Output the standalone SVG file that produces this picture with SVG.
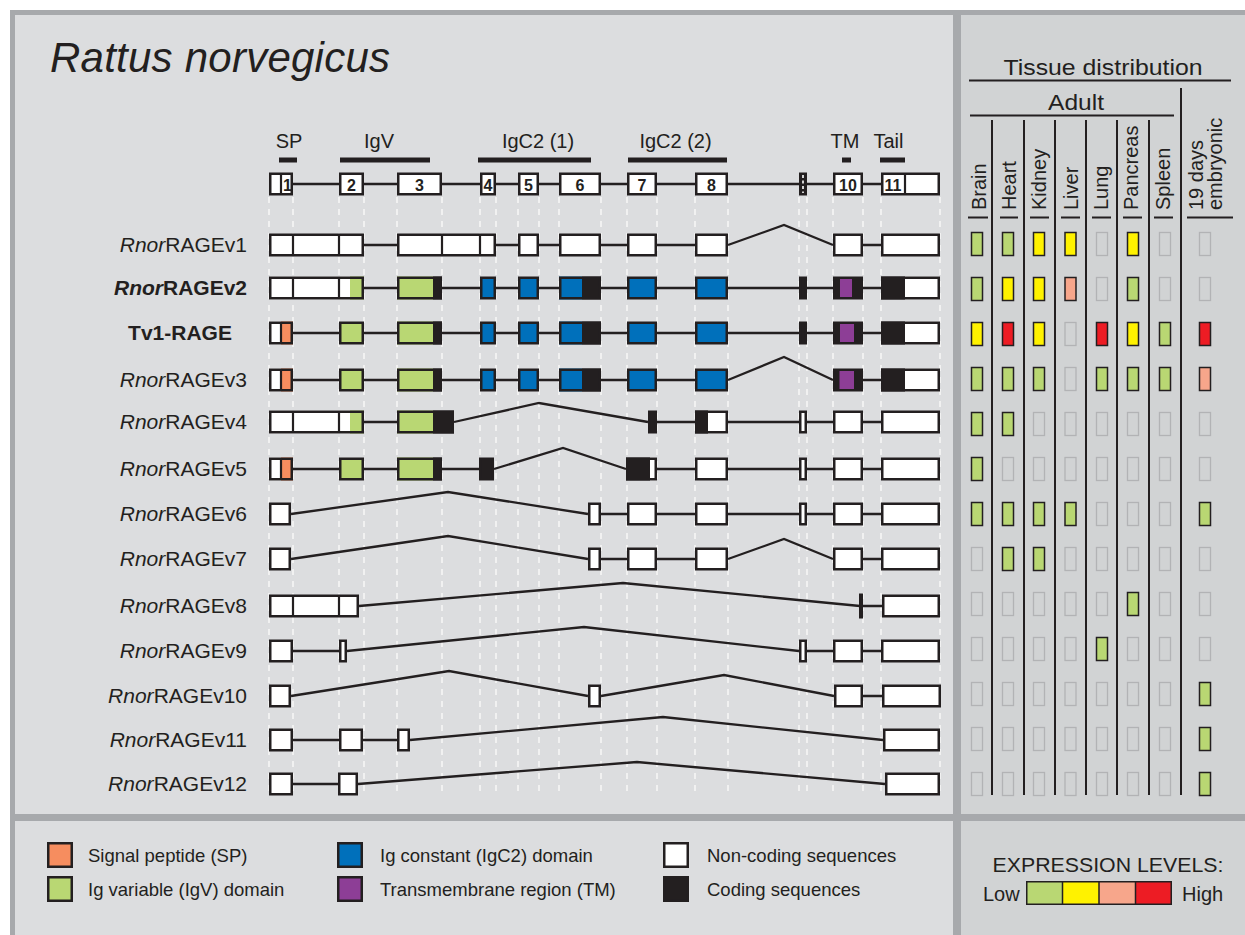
<svg xmlns="http://www.w3.org/2000/svg" width="1245" height="935" viewBox="0 0 1245 935">
<style>
.t{font-family:"Liberation Sans",Arial,Helvetica,sans-serif;fill:#231f20}
.ex{stroke:#231f20;stroke-width:2.5}
.o{fill:none;stroke:#231f20;stroke-width:2.5}
.w{fill:#fff}.gr{fill:#b9d773}.bl{fill:#0070bb}.pu{fill:#8d3e96}.bk{fill:#231f20}.or{fill:#f68d5f}.ye{fill:#fff200}.sa{fill:#f7a68b}.re{fill:#ed1c24}
.dv{stroke:#231f20;stroke-width:2.2}
.ln{fill:none;stroke:#231f20;stroke-width:2.3}
.gd{stroke:#f7f7f7;stroke-width:1.5;stroke-dasharray:6 6;fill:none}
.lbl{font-size:21px}
.num{font-size:16px;font-weight:bold;text-anchor:middle}
.dom{font-size:20px;text-anchor:middle}
.ce{stroke:#b2b3b5;stroke-width:1.3;fill:none}
.cf{stroke:#231f20;stroke-width:1.5}
.rl{stroke:#231f20;stroke-width:2;fill:none}
.rot{font-size:20px}
.leg{font-size:18.5px}
</style>
<rect width="1245" height="935" fill="#fff"/>
<rect x="10" y="10" width="1235" height="925" fill="#a7a9ac"/>
<rect x="15" y="15" width="938" height="799" fill="#dcdddf"/>
<rect x="961" y="15" width="284" height="799" fill="#d1d3d4"/>
<rect x="15" y="821" width="938" height="114" fill="#dcdddf"/>
<rect x="961" y="821" width="284" height="114" fill="#d1d3d4"/>

<text class="t" x="50" y="72" font-size="42" font-style="italic" textLength="340">Rattus norvegicus</text>

<!-- guide lines -->
<path class="gd" d="M269 197V796M293 197V796M339 197V796M364 197V796M397 197V796M442 197V796M480 197V796M496 197V796M518 197V796M539 197V796M559 197V796M601 197V796M627 197V796M657 197V796M695 197V796M728 197V796M799 197V796M807 197V796M833 197V796M863 197V796M881 197V796M940 197V796"/>

<!-- domains -->
<g id="domains">
<text class="t dom" x="289" y="148">SP</text>
<text class="t dom" x="379" y="148">IgV</text>
<text class="t dom" x="538" y="148">IgC2 (1)</text>
<text class="t dom" x="675.5" y="148">IgC2 (2)</text>
<text class="t dom" x="845" y="148">TM</text>
<text class="t dom" x="888.5" y="148">Tail</text>
<rect class="bk" x="279" y="157.5" width="18" height="5"/>
<rect class="bk" x="340" y="157.5" width="90" height="5"/>
<rect class="bk" x="478" y="157.5" width="113" height="5"/>
<rect class="bk" x="628" y="157.5" width="99" height="5"/>
<rect class="bk" x="842" y="157.5" width="9" height="5"/>
<rect class="bk" x="880" y="157.5" width="25" height="5"/>
</g>

<g id="connectors" class="ln">
<path transform="translate(0,184)" d="M293 0H881"/>
<path transform="translate(0,245)" d="M364 0H397M496 0H518M539 0H559M601 0H627M657 0H695M728 0L784 -20L833 0M863 0H881"/>
<path transform="translate(0,288)" d="M364 0H397M442 0H480M496 0H518M539 0H559M601 0H627M657 0H695M728 0H799M807 0H833M863 0H881"/>
<path transform="translate(0,333)" d="M293 0H339M364 0H397M442 0H480M496 0H518M539 0H559M601 0H627M657 0H695M728 0H799M807 0H833M863 0H881"/>
<path transform="translate(0,380)" d="M293 0H339M364 0H397M442 0H480M496 0H518M539 0H559M601 0H627M657 0H695M728 0L784 -23L833 0M863 0H881"/>
<path transform="translate(0,422)" d="M364 0H397M454 0L539 -19L648 0M657 0H695M728 0H799M807 0H833M863 0H881"/>
<path transform="translate(0,469)" d="M293 0H339M364 0H397M442 0H479M494 0L563 -21L626 0M657 0H695M728 0H799M807 0H833M863 0H881"/>
<path transform="translate(0,514)" d="M291 0L448 -22L588 0M601 0H627M657 0H695M728 0H799M807 0H833M863 0H881"/>
<path transform="translate(0,559)" d="M291 0L448 -23L588 0M601 0H627M657 0H695M728 0L784 -20L833 0M863 0H881"/>
<path transform="translate(0,606)" d="M359 0L623 -23L860 0M863 0H882"/>
<path transform="translate(0,651)" d="M293 0H339M347 0L584 -24L799 0M807 0H833M863 0H881"/>
<path transform="translate(0,696)" d="M291 0L449 -25L588 0M601 0L724 -21L834 0M863 0H882"/>
<path transform="translate(0,740)" d="M293 0H339M363 0H397M410 0L663 -23L883 0"/>
<path transform="translate(0,784)" d="M293 0H338M358 0L637 -22L885 0"/>
</g>

<g id="exon-map" transform="translate(0,184)">
<rect class="ex w" x="270.25" y="-10.25" width="21.5" height="20.5"/><path class="dv" d="M281 -11V11"/><text class="t num" x="287.5" y="6.5">1</text>
<rect class="ex w" x="340.25" y="-10.25" width="22.5" height="20.5"/><text class="t num" x="351.5" y="6.5">2</text>
<rect class="ex w" x="398.25" y="-10.25" width="42.5" height="20.5"/><text class="t num" x="419.5" y="6.5">3</text>
<rect class="ex w" x="481.25" y="-10.25" width="13.5" height="20.5"/><text class="t num" x="488" y="6.5">4</text>
<rect class="ex w" x="519.25" y="-10.25" width="18.5" height="20.5"/><text class="t num" x="528.5" y="6.5">5</text>
<rect class="ex w" x="560.25" y="-10.25" width="39.5" height="20.5"/><text class="t num" x="580" y="6.5">6</text>
<rect class="ex w" x="628.25" y="-10.25" width="27.5" height="20.5"/><text class="t num" x="642" y="6.5">7</text>
<rect class="ex w" x="696.25" y="-10.25" width="30.5" height="20.5"/><text class="t num" x="711.5" y="6.5">8</text>
<rect class="ex bk" x="800.25" y="-10.25" width="5.5" height="20.5"/><path d="M803 -9V9" stroke="#fff" stroke-width="1.6" stroke-dasharray="3 2.5"/>
<rect class="ex w" x="834.25" y="-10.25" width="27.5" height="20.5"/><text class="t num" x="848" y="6.5">10</text>
<rect class="ex w" x="882.25" y="-10.25" width="56.5" height="20.5"/><path class="dv" d="M905 -11V11"/><text class="t num" x="893" y="6.5">11</text>
</g>

<g id="v1" transform="translate(0,245)">
<text class="t lbl" x="247" y="7" text-anchor="end"><tspan font-style="italic">Rnor</tspan>RAGEv1</text>
<rect class="ex w" x="270.25" y="-10.25" width="92.5" height="20.5"/><path class="dv" d="M293 -11V11M339 -11V11"/>
<rect class="ex w" x="398.25" y="-10.25" width="96.5" height="20.5"/><path class="dv" d="M442 -11V11M480 -11V11"/>
<rect class="ex w" x="519.25" y="-10.25" width="18.5" height="20.5"/>
<rect class="ex w" x="560.25" y="-10.25" width="39.5" height="20.5"/>
<rect class="ex w" x="628.25" y="-10.25" width="27.5" height="20.5"/>
<rect class="ex w" x="696.25" y="-10.25" width="30.5" height="20.5"/>
<rect class="ex w" x="834.25" y="-10.25" width="27.5" height="20.5"/>
<rect class="ex w" x="882.25" y="-10.25" width="56.5" height="20.5"/>
</g>

<g id="v2" transform="translate(0,288)">
<text class="t lbl" x="247" y="7" text-anchor="end" font-weight="bold"><tspan font-style="italic">Rnor</tspan>RAGEv2</text>
<rect class="w" x="269" y="-11.5" width="81" height="23"/><rect class="gr" x="350" y="-11.5" width="14" height="23"/><rect class="o" x="270.25" y="-10.25" width="92.5" height="20.5"/><path class="dv" d="M293 -11V11M339 -11V11"/>
<rect class="gr" x="397" y="-11.5" width="36" height="23"/><rect class="bk" x="433" y="-11.5" width="9" height="23"/><rect class="o" x="398.25" y="-10.25" width="42.5" height="20.5"/>
<rect class="ex bl" x="481.25" y="-10.25" width="13.5" height="20.5"/>
<rect class="ex bl" x="519.25" y="-10.25" width="18.5" height="20.5"/>
<rect class="bl" x="559" y="-11.5" width="23" height="23"/><rect class="bk" x="582" y="-11.5" width="19" height="23"/><rect class="o" x="560.25" y="-10.25" width="39.5" height="20.5"/>
<rect class="ex bl" x="628.25" y="-10.25" width="27.5" height="20.5"/>
<rect class="ex bl" x="696.25" y="-10.25" width="30.5" height="20.5"/>
<rect class="ex bk" x="800.25" y="-10.25" width="5.5" height="20.5"/>
<rect class="ex bk" x="834.25" y="-10.25" width="27.5" height="20.5"/><rect class="pu" x="840" y="-9" width="12" height="18"/>
<rect class="bk" x="881" y="-11.5" width="24" height="23"/><rect class="w" x="905" y="-11.5" width="35" height="23"/><rect class="o" x="882.25" y="-10.25" width="56.5" height="20.5"/>
</g>

<g id="tv1" transform="translate(0,333)">
<text class="t lbl" x="180" y="7" text-anchor="middle" font-weight="bold">Tv1-RAGE</text>
<rect class="w" x="269" y="-11.5" width="12" height="23"/><rect class="or" x="281" y="-11.5" width="12" height="23"/><rect class="o" x="270.25" y="-10.25" width="21.5" height="20.5"/><path class="dv" d="M281 -11V11"/>
<rect class="ex gr" x="340.25" y="-10.25" width="22.5" height="20.5"/>
<rect class="gr" x="397" y="-11.5" width="36" height="23"/><rect class="bk" x="433" y="-11.5" width="9" height="23"/><rect class="o" x="398.25" y="-10.25" width="42.5" height="20.5"/>
<rect class="ex bl" x="481.25" y="-10.25" width="13.5" height="20.5"/>
<rect class="ex bl" x="519.25" y="-10.25" width="18.5" height="20.5"/>
<rect class="bl" x="559" y="-11.5" width="23" height="23"/><rect class="bk" x="582" y="-11.5" width="19" height="23"/><rect class="o" x="560.25" y="-10.25" width="39.5" height="20.5"/>
<rect class="ex bl" x="628.25" y="-10.25" width="27.5" height="20.5"/>
<rect class="ex bl" x="696.25" y="-10.25" width="30.5" height="20.5"/>
<rect class="ex bk" x="800.25" y="-10.25" width="5.5" height="20.5"/>
<rect class="ex bk" x="834.25" y="-10.25" width="27.5" height="20.5"/><rect class="pu" x="840" y="-9" width="14" height="18"/>
<rect class="bk" x="881" y="-11.5" width="24" height="23"/><rect class="w" x="905" y="-11.5" width="35" height="23"/><rect class="o" x="882.25" y="-10.25" width="56.5" height="20.5"/>
</g>

<g id="v3" transform="translate(0,380)">
<text class="t lbl" x="247" y="7" text-anchor="end"><tspan font-style="italic">Rnor</tspan>RAGEv3</text>
<rect class="w" x="269" y="-11.5" width="12" height="23"/><rect class="or" x="281" y="-11.5" width="12" height="23"/><rect class="o" x="270.25" y="-10.25" width="21.5" height="20.5"/><path class="dv" d="M281 -11V11"/>
<rect class="ex gr" x="340.25" y="-10.25" width="22.5" height="20.5"/>
<rect class="gr" x="397" y="-11.5" width="36" height="23"/><rect class="bk" x="433" y="-11.5" width="9" height="23"/><rect class="o" x="398.25" y="-10.25" width="42.5" height="20.5"/>
<rect class="ex bl" x="481.25" y="-10.25" width="13.5" height="20.5"/>
<rect class="ex bl" x="519.25" y="-10.25" width="18.5" height="20.5"/>
<rect class="bl" x="559" y="-11.5" width="23" height="23"/><rect class="bk" x="582" y="-11.5" width="19" height="23"/><rect class="o" x="560.25" y="-10.25" width="39.5" height="20.5"/>
<rect class="ex bl" x="628.25" y="-10.25" width="27.5" height="20.5"/>
<rect class="ex bl" x="696.25" y="-10.25" width="30.5" height="20.5"/>
<rect class="ex bk" x="834.25" y="-10.25" width="27.5" height="20.5"/><rect class="pu" x="839.5" y="-9" width="14.5" height="18"/>
<rect class="bk" x="881" y="-11.5" width="24" height="23"/><rect class="w" x="905" y="-11.5" width="35" height="23"/><rect class="o" x="882.25" y="-10.25" width="56.5" height="20.5"/>
</g>

<g id="v4" transform="translate(0,422)">
<text class="t lbl" x="247" y="7" text-anchor="end"><tspan font-style="italic">Rnor</tspan>RAGEv4</text>
<rect class="w" x="269" y="-11.5" width="81" height="23"/><rect class="gr" x="350" y="-11.5" width="14" height="23"/><rect class="o" x="270.25" y="-10.25" width="92.5" height="20.5"/><path class="dv" d="M293 -11V11M339 -11V11"/>
<rect class="gr" x="397" y="-11.5" width="36" height="23"/><rect class="bk" x="433" y="-11.5" width="21" height="23"/><rect class="o" x="398.25" y="-10.25" width="54.5" height="20.5"/>
<rect class="ex bk" x="649.25" y="-10.25" width="6.5" height="20.5"/>
<rect class="bk" x="695" y="-11.5" width="13" height="23"/><rect class="w" x="708" y="-11.5" width="20" height="23"/><rect class="o" x="696.25" y="-10.25" width="30.5" height="20.5"/>
<rect class="ex w" x="800.25" y="-10.25" width="5.5" height="20.5"/>
<rect class="ex w" x="834.25" y="-10.25" width="27.5" height="20.5"/>
<rect class="ex w" x="882.25" y="-10.25" width="56.5" height="20.5"/>
</g>

<g id="v5" transform="translate(0,469)">
<text class="t lbl" x="247" y="7" text-anchor="end"><tspan font-style="italic">Rnor</tspan>RAGEv5</text>
<rect class="w" x="269" y="-11.5" width="12" height="23"/><rect class="or" x="281" y="-11.5" width="12" height="23"/><rect class="o" x="270.25" y="-10.25" width="21.5" height="20.5"/><path class="dv" d="M281 -11V11"/>
<rect class="ex gr" x="340.25" y="-10.25" width="22.5" height="20.5"/>
<rect class="gr" x="397" y="-11.5" width="36" height="23"/><rect class="bk" x="433" y="-11.5" width="9" height="23"/><rect class="o" x="398.25" y="-10.25" width="42.5" height="20.5"/>
<rect class="ex bk" x="480.25" y="-10.25" width="12.5" height="20.5"/>
<rect class="bk" x="626" y="-11.5" width="24" height="23"/><rect class="w" x="650" y="-11.5" width="7" height="23"/><rect class="o" x="627.25" y="-10.25" width="28.5" height="20.5"/>
<rect class="ex w" x="696.25" y="-10.25" width="30.5" height="20.5"/>
<rect class="ex w" x="800.25" y="-10.25" width="5.5" height="20.5"/>
<rect class="ex w" x="834.25" y="-10.25" width="27.5" height="20.5"/>
<rect class="ex w" x="882.25" y="-10.25" width="56.5" height="20.5"/>
</g>

<g id="v6" transform="translate(0,514)">
<text class="t lbl" x="247" y="7" text-anchor="end"><tspan font-style="italic">Rnor</tspan>RAGEv6</text>
<rect class="ex w" x="270.25" y="-10.25" width="19.5" height="20.5"/>
<rect class="ex w" x="589.25" y="-10.25" width="10.5" height="20.5"/>
<rect class="ex w" x="628.25" y="-10.25" width="27.5" height="20.5"/>
<rect class="ex w" x="696.25" y="-10.25" width="30.5" height="20.5"/>
<rect class="ex w" x="800.25" y="-10.25" width="5.5" height="20.5"/>
<rect class="ex w" x="834.25" y="-10.25" width="27.5" height="20.5"/>
<rect class="ex w" x="882.25" y="-10.25" width="56.5" height="20.5"/>
</g>

<g id="v7" transform="translate(0,559)">
<text class="t lbl" x="247" y="7" text-anchor="end"><tspan font-style="italic">Rnor</tspan>RAGEv7</text>
<rect class="ex w" x="270.25" y="-10.25" width="19.5" height="20.5"/>
<rect class="ex w" x="589.25" y="-10.25" width="10.5" height="20.5"/>
<rect class="ex w" x="628.25" y="-10.25" width="27.5" height="20.5"/>
<rect class="ex w" x="696.25" y="-10.25" width="30.5" height="20.5"/>
<rect class="ex w" x="834.25" y="-10.25" width="27.5" height="20.5"/>
<rect class="ex w" x="882.25" y="-10.25" width="56.5" height="20.5"/>
</g>

<g id="v8" transform="translate(0,606)">
<text class="t lbl" x="247" y="7" text-anchor="end"><tspan font-style="italic">Rnor</tspan>RAGEv8</text>
<rect class="ex w" x="270.25" y="-10.25" width="87.5" height="20.5"/><path class="dv" d="M293 -11V11M339 -11V11"/>
<rect class="bk" x="859" y="-12.5" width="4" height="25"/>
<rect class="ex w" x="883.25" y="-10.25" width="55.5" height="20.5"/>
</g>

<g id="v9" transform="translate(0,651)">
<text class="t lbl" x="247" y="7" text-anchor="end"><tspan font-style="italic">Rnor</tspan>RAGEv9</text>
<rect class="ex w" x="270.25" y="-10.25" width="21.5" height="20.5"/>
<rect class="ex w" x="340.25" y="-10.25" width="5.5" height="20.5"/>
<rect class="ex w" x="800.25" y="-10.25" width="5.5" height="20.5"/>
<rect class="ex w" x="834.25" y="-10.25" width="27.5" height="20.5"/>
<rect class="ex w" x="882.25" y="-10.25" width="56.5" height="20.5"/>
</g>

<g id="v10" transform="translate(0,696)">
<text class="t lbl" x="247" y="7" text-anchor="end"><tspan font-style="italic">Rnor</tspan>RAGEv10</text>
<rect class="ex w" x="270.25" y="-10.25" width="19.5" height="20.5"/>
<rect class="ex w" x="589.25" y="-10.25" width="10.5" height="20.5"/>
<rect class="ex w" x="835.25" y="-10.25" width="26.5" height="20.5"/>
<rect class="ex w" x="883.25" y="-10.25" width="56.5" height="20.5"/>
</g>

<g id="v11" transform="translate(0,740)">
<text class="t lbl" x="247" y="7" text-anchor="end"><tspan font-style="italic">Rnor</tspan>RAGEv11</text>
<rect class="ex w" x="270.25" y="-10.25" width="21.5" height="20.5"/>
<rect class="ex w" x="340.25" y="-10.25" width="21.5" height="20.5"/>
<rect class="ex w" x="398.25" y="-10.25" width="10.5" height="20.5"/>
<rect class="ex w" x="884.25" y="-10.25" width="54.5" height="20.5"/>
</g>

<g id="v12" transform="translate(0,784)">
<text class="t lbl" x="247" y="7" text-anchor="end"><tspan font-style="italic">Rnor</tspan>RAGEv12</text>
<rect class="ex w" x="270.25" y="-10.25" width="21.5" height="20.5"/>
<rect class="ex w" x="339.25" y="-10.25" width="17.5" height="20.5"/>
<rect class="ex w" x="886.25" y="-10.25" width="52.5" height="20.5"/>
</g>

<g id="tissue-header">
<text class="t" x="1103" y="75" font-size="22" text-anchor="middle" textLength="199" lengthAdjust="spacingAndGlyphs">Tissue distribution</text>
<text class="t" x="1076" y="110" font-size="22" text-anchor="middle" textLength="56" lengthAdjust="spacingAndGlyphs">Adult</text>
<path class="rl" d="M969 80.5H1231M970 115.5H1174"/>
<path class="rl" d="M992 120V795M1024 120V795M1055 120V795M1086 120V795M1117 120V795M1149 120V795M1181 88V795"/>
<path class="rl" d="M968 217.5H988M1000 217.5H1018M1030 217.5H1049M1061 217.5H1080M1092 217.5H1111M1123 217.5H1142M1154 217.5H1173M1187 217.5H1233"/>
<text class="t rot" transform="translate(986,210) rotate(-90)">Brain</text>
<text class="t rot" transform="translate(1016,210) rotate(-90)">Heart</text>
<text class="t rot" transform="translate(1046,210) rotate(-90)">Kidney</text>
<text class="t rot" transform="translate(1078,210) rotate(-90)">Liver</text>
<text class="t rot" transform="translate(1108,210) rotate(-90)">Lung</text>
<text class="t rot" transform="translate(1138,210) rotate(-90)">Pancreas</text>
<text class="t rot" transform="translate(1170,210) rotate(-90)">Spleen</text>
<text class="t rot" transform="translate(1203,210) rotate(-90)">19 days</text>
<text class="t rot" transform="translate(1222,210) rotate(-90)">embryonic</text>
</g>

<g id="tissue-cells">
<g transform="translate(0,244)"><rect class="cf gr" x="971.5" y="-11.5" width="11" height="23"/><rect class="cf gr" x="1002.5" y="-11.5" width="11" height="23"/><rect class="cf ye" x="1033.5" y="-11.5" width="11" height="23"/><rect class="cf ye" x="1065" y="-11.5" width="11" height="23"/><rect class="ce" x="1096.5" y="-11.5" width="11" height="23"/><rect class="cf ye" x="1127.5" y="-11.5" width="11" height="23"/><rect class="ce" x="1159.5" y="-11.5" width="11" height="23"/><rect class="ce" x="1199.5" y="-11.5" width="11" height="23"/></g>
<g transform="translate(0,289)"><rect class="cf gr" x="971.5" y="-11.5" width="11" height="23"/><rect class="cf ye" x="1002.5" y="-11.5" width="11" height="23"/><rect class="cf ye" x="1033.5" y="-11.5" width="11" height="23"/><rect class="cf sa" x="1065" y="-11.5" width="11" height="23"/><rect class="ce" x="1096.5" y="-11.5" width="11" height="23"/><rect class="cf gr" x="1127.5" y="-11.5" width="11" height="23"/><rect class="ce" x="1159.5" y="-11.5" width="11" height="23"/><rect class="ce" x="1199.5" y="-11.5" width="11" height="23"/></g>
<g transform="translate(0,334)"><rect class="cf ye" x="971.5" y="-11.5" width="11" height="23"/><rect class="cf re" x="1002.5" y="-11.5" width="11" height="23"/><rect class="cf ye" x="1033.5" y="-11.5" width="11" height="23"/><rect class="ce" x="1065" y="-11.5" width="11" height="23"/><rect class="cf re" x="1096.5" y="-11.5" width="11" height="23"/><rect class="cf ye" x="1127.5" y="-11.5" width="11" height="23"/><rect class="cf gr" x="1159.5" y="-11.5" width="11" height="23"/><rect class="cf re" x="1199.5" y="-11.5" width="11" height="23"/></g>
<g transform="translate(0,379)"><rect class="cf gr" x="971.5" y="-11.5" width="11" height="23"/><rect class="cf gr" x="1002.5" y="-11.5" width="11" height="23"/><rect class="cf gr" x="1033.5" y="-11.5" width="11" height="23"/><rect class="ce" x="1065" y="-11.5" width="11" height="23"/><rect class="cf gr" x="1096.5" y="-11.5" width="11" height="23"/><rect class="cf gr" x="1127.5" y="-11.5" width="11" height="23"/><rect class="cf gr" x="1159.5" y="-11.5" width="11" height="23"/><rect class="cf sa" x="1199.5" y="-11.5" width="11" height="23"/></g>
<g transform="translate(0,424)"><rect class="cf gr" x="971.5" y="-11.5" width="11" height="23"/><rect class="cf gr" x="1002.5" y="-11.5" width="11" height="23"/><rect class="ce" x="1033.5" y="-11.5" width="11" height="23"/><rect class="ce" x="1065" y="-11.5" width="11" height="23"/><rect class="ce" x="1096.5" y="-11.5" width="11" height="23"/><rect class="ce" x="1127.5" y="-11.5" width="11" height="23"/><rect class="ce" x="1159.5" y="-11.5" width="11" height="23"/><rect class="ce" x="1199.5" y="-11.5" width="11" height="23"/></g>
<g transform="translate(0,469)"><rect class="cf gr" x="971.5" y="-11.5" width="11" height="23"/><rect class="ce" x="1002.5" y="-11.5" width="11" height="23"/><rect class="ce" x="1033.5" y="-11.5" width="11" height="23"/><rect class="ce" x="1065" y="-11.5" width="11" height="23"/><rect class="ce" x="1096.5" y="-11.5" width="11" height="23"/><rect class="ce" x="1127.5" y="-11.5" width="11" height="23"/><rect class="ce" x="1159.5" y="-11.5" width="11" height="23"/><rect class="ce" x="1199.5" y="-11.5" width="11" height="23"/></g>
<g transform="translate(0,514)"><rect class="cf gr" x="971.5" y="-11.5" width="11" height="23"/><rect class="cf gr" x="1002.5" y="-11.5" width="11" height="23"/><rect class="cf gr" x="1033.5" y="-11.5" width="11" height="23"/><rect class="cf gr" x="1065" y="-11.5" width="11" height="23"/><rect class="ce" x="1096.5" y="-11.5" width="11" height="23"/><rect class="ce" x="1127.5" y="-11.5" width="11" height="23"/><rect class="ce" x="1159.5" y="-11.5" width="11" height="23"/><rect class="cf gr" x="1199.5" y="-11.5" width="11" height="23"/></g>
<g transform="translate(0,559)"><rect class="ce" x="971.5" y="-11.5" width="11" height="23"/><rect class="cf gr" x="1002.5" y="-11.5" width="11" height="23"/><rect class="cf gr" x="1033.5" y="-11.5" width="11" height="23"/><rect class="ce" x="1065" y="-11.5" width="11" height="23"/><rect class="ce" x="1096.5" y="-11.5" width="11" height="23"/><rect class="ce" x="1127.5" y="-11.5" width="11" height="23"/><rect class="ce" x="1159.5" y="-11.5" width="11" height="23"/><rect class="ce" x="1199.5" y="-11.5" width="11" height="23"/></g>
<g transform="translate(0,604)"><rect class="ce" x="971.5" y="-11.5" width="11" height="23"/><rect class="ce" x="1002.5" y="-11.5" width="11" height="23"/><rect class="ce" x="1033.5" y="-11.5" width="11" height="23"/><rect class="ce" x="1065" y="-11.5" width="11" height="23"/><rect class="ce" x="1096.5" y="-11.5" width="11" height="23"/><rect class="cf gr" x="1127.5" y="-11.5" width="11" height="23"/><rect class="ce" x="1159.5" y="-11.5" width="11" height="23"/><rect class="ce" x="1199.5" y="-11.5" width="11" height="23"/></g>
<g transform="translate(0,649)"><rect class="ce" x="971.5" y="-11.5" width="11" height="23"/><rect class="ce" x="1002.5" y="-11.5" width="11" height="23"/><rect class="ce" x="1033.5" y="-11.5" width="11" height="23"/><rect class="ce" x="1065" y="-11.5" width="11" height="23"/><rect class="cf gr" x="1096.5" y="-11.5" width="11" height="23"/><rect class="ce" x="1127.5" y="-11.5" width="11" height="23"/><rect class="ce" x="1159.5" y="-11.5" width="11" height="23"/><rect class="ce" x="1199.5" y="-11.5" width="11" height="23"/></g>
<g transform="translate(0,694)"><rect class="ce" x="971.5" y="-11.5" width="11" height="23"/><rect class="ce" x="1002.5" y="-11.5" width="11" height="23"/><rect class="ce" x="1033.5" y="-11.5" width="11" height="23"/><rect class="ce" x="1065" y="-11.5" width="11" height="23"/><rect class="ce" x="1096.5" y="-11.5" width="11" height="23"/><rect class="ce" x="1127.5" y="-11.5" width="11" height="23"/><rect class="ce" x="1159.5" y="-11.5" width="11" height="23"/><rect class="cf gr" x="1199.5" y="-11.5" width="11" height="23"/></g>
<g transform="translate(0,739)"><rect class="ce" x="971.5" y="-11.5" width="11" height="23"/><rect class="ce" x="1002.5" y="-11.5" width="11" height="23"/><rect class="ce" x="1033.5" y="-11.5" width="11" height="23"/><rect class="ce" x="1065" y="-11.5" width="11" height="23"/><rect class="ce" x="1096.5" y="-11.5" width="11" height="23"/><rect class="ce" x="1127.5" y="-11.5" width="11" height="23"/><rect class="ce" x="1159.5" y="-11.5" width="11" height="23"/><rect class="cf gr" x="1199.5" y="-11.5" width="11" height="23"/></g>
<g transform="translate(0,784)"><rect class="ce" x="971.5" y="-11.5" width="11" height="23"/><rect class="ce" x="1002.5" y="-11.5" width="11" height="23"/><rect class="ce" x="1033.5" y="-11.5" width="11" height="23"/><rect class="ce" x="1065" y="-11.5" width="11" height="23"/><rect class="ce" x="1096.5" y="-11.5" width="11" height="23"/><rect class="ce" x="1127.5" y="-11.5" width="11" height="23"/><rect class="ce" x="1159.5" y="-11.5" width="11" height="23"/><rect class="cf gr" x="1199.5" y="-11.5" width="11" height="23"/></g>
</g>

<g id="legend">
<rect class="ex or" x="48.25" y="843.25" width="23.5" height="23.5"/>
<text class="t leg" x="88" y="862">Signal peptide (SP)</text>
<rect class="ex gr" x="48.25" y="877.25" width="23.5" height="23.5"/>
<text class="t leg" x="88" y="896">Ig variable (IgV) domain</text>
<rect class="ex bl" x="338.25" y="843.25" width="23.5" height="23.5"/>
<text class="t leg" x="380" y="862">Ig constant (IgC2) domain</text>
<rect class="ex pu" x="338.25" y="877.25" width="23.5" height="23.5"/>
<text class="t leg" x="380" y="896">Transmembrane region (TM)</text>
<rect class="ex w" x="664.25" y="843.25" width="23.5" height="23.5"/>
<text class="t leg" x="707" y="862">Non-coding sequences</text>
<rect class="ex bk" x="664.25" y="877.25" width="23.5" height="23.5"/>
<text class="t leg" x="707" y="896">Coding sequences</text>
</g>

<g id="expression-legend">
<text class="t" x="1108" y="872" font-size="20" text-anchor="middle" textLength="231" lengthAdjust="spacingAndGlyphs">EXPRESSION LEVELS:</text>
<text class="t" x="983" y="901" font-size="20">Low</text>
<text class="t" x="1182" y="901" font-size="20">High</text>
<rect class="gr" x="1026" y="881" width="36.5" height="24"/>
<rect class="ye" x="1062.5" y="881" width="36.5" height="24"/>
<rect class="sa" x="1099" y="881" width="36.5" height="24"/>
<rect class="re" x="1135.5" y="881" width="36.5" height="24"/>
<rect x="1026.75" y="881.75" width="144.5" height="22.5" fill="none" stroke="#231f20" stroke-width="1.5"/>
<path d="M1062.5 881V905M1099 881V905M1135.5 881V905" stroke="#231f20" stroke-width="1.5"/>
</g>
</svg>
